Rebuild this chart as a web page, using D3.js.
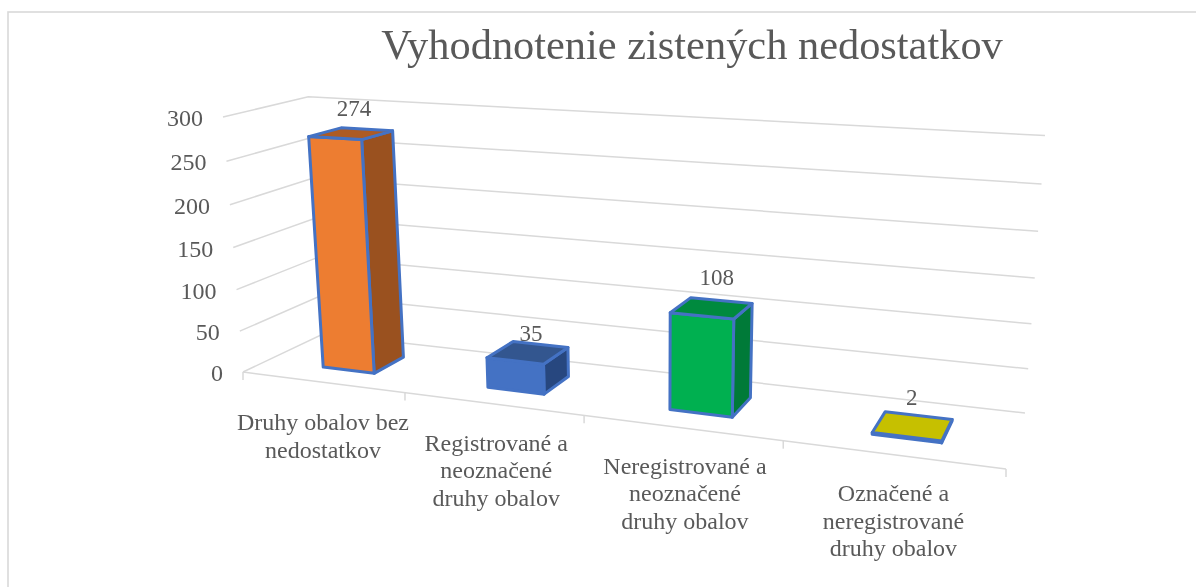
<!DOCTYPE html>
<html>
<head>
<meta charset="utf-8">
<script src="https://cdn.jsdelivr.net/npm/d3@7"></script>
<style>
  html, body { margin: 0; padding: 0; background: #fff; }
  svg { filter: blur(0.4px); }
  text { font-family: "Liberation Serif", serif; fill: #595959; }
</style>
</head>
<body>
<div id="canvas"></div>
<script>
"use strict"

// DATA

let chartTitle = "Vyhodnotenie zistených nedostatkov";
let categories = ["Druhy obalov bez nedostatkov", "Registrované a neoznačené druhy obalov", "Neregistrované a neoznačené druhy obalov", "Označené a neregistrované druhy obalov"];
let categoryLines = [
    ["Druhy obalov bez", "nedostatkov"],
    ["Registrované a", "neoznačené", "druhy obalov"],
    ["Neregistrované a", "neoznačené", "druhy obalov"],
    ["Označené a", "neregistrované", "druhy obalov"]
];
let values = [274, 35, 108, 2];
let yTicks = [0, 50, 100, 150, 200, 250, 300];

// Bar colours - front, side, top
let frontColors = ["#ED7D31", "#4472C4", "#00B050", "#C6C000"];
let sideColors = ["#9A511F", "#27477F", "#007A38", "#807C00"];
let topColors = ["#AD5B24", "#33568F", "#008A3E", "#918D00"];

// Canvas

let svgWidth = 1196;
let svgHeight = 587;

let svg = d3.select("#canvas")
    .append("svg")
    .attr("width", svgWidth)
    .attr("height", svgHeight)
    .style("display", "block");

// only the left and top chart borders fall inside the picture
svg.append("rect")
    .attr("x", 8)
    .attr("y", 12)
    .attr("width", svgWidth + 20)
    .attr("height", svgHeight + 20)
    .attr("fill", "none")
    .attr("stroke", "#D9D9D9")
    .attr("stroke-width", 1.6);


// 3D BOX - floor corners: front left, front right, back right, back left

let floorQuad = [[243, 372], [1006, 469], [1025, 413], [323, 334]];
let topFrontLeft = [223, 117]; // where the 300 line starts
let topBackRightX = 1045;      // where the 300 line ends

// floor homography from the unit square (Heckbert)
let q = floorQuad;
let dx1 = q[1][0] - q[2][0], dx2 = q[3][0] - q[2][0], sx = q[0][0] - q[1][0] + q[2][0] - q[3][0];
let dy1 = q[1][1] - q[2][1], dy2 = q[3][1] - q[2][1], sy = q[0][1] - q[1][1] + q[2][1] - q[3][1];
let den = dx1 * dy2 - dx2 * dy1;
let mU = (sx * dy2 - dx2 * sy) / den;
let mW = (dx1 * sy - sx * dy1) / den;
let xU = q[1][0] - q[0][0] + mU * q[1][0];
let xW = q[3][0] - q[0][0] + mW * q[3][0];
let yU = q[1][1] - q[0][1] + mU * q[1][1];
let yW = q[3][1] - q[0][1] + mW * q[3][1];

// height column of the camera matrix, solved from the two top points
let backRightM = mU + mW + 1;
let backRightN = xU + xW + q[0][0];
let mV = (backRightN + topFrontLeft[0] - q[0][0] - topBackRightX * backRightM) / (topBackRightX - topFrontLeft[0]);
let xV = topFrontLeft[0] * (1 + mV) - q[0][0];
let yV = topFrontLeft[1] * (1 + mV) - q[0][1];

// u = along the categories, v = value, w = depth, all in 0..1
function project(u, v, w) {
    let m = mU * u + mW * w + mV * v + 1;
    let wallFit = v * (8 * u - 3) * w; // back wall lines are a bit steeper than the camera gives
    return [(xU * u + xW * w + xV * v + q[0][0]) / m, (yU * u + yW * w + yV * v + q[0][1]) / m + wallFit];
}

// SCALES

let xScale = d3.scaleLinear().domain([0, categories.length]).range([0, 1]);
let yScale = d3.scaleLinear().domain([0, 300]).range([0, 1]);
let bandScale = d3.scaleBand()
    .domain(d3.range(categories.length))
    .range([0.005, 1.007])
    .paddingInner(0.68)
    .paddingOuter(0.34);

let depthFront = 0.29;
let depthBack = 0.69;

let line = d3.line();


// GRIDLINES - left wall then back wall

yTicks.forEach(function (tick) {
    let v = yScale(tick);
    svg.append("path")
        .attr("d", line([project(0, v, 0), project(0, v, 1), project(1, v, 1)]))
        .attr("fill", "none")
        .attr("stroke", "#D9D9D9")
        .attr("stroke-width", 1.5);
});


// FLOOR LINE + TICKS

svg.append("path")
    .attr("d", line([project(0, 0, 0), project(1, 0, 0)]))
    .attr("fill", "none")
    .attr("stroke", "#D9D9D9")
    .attr("stroke-width", 1.5);

d3.range(categories.length + 1).forEach(function (i) {
    let p = project(xScale(i), 0, 0);
    svg.append("line")
        .attr("x1", p[0])
        .attr("y1", p[1])
        .attr("x2", p[0])
        .attr("y2", p[1] + 8)
        .attr("stroke", "#D9D9D9")
        .attr("stroke-width", 1.5);
});


// BARS

values.forEach(function (value, i) {
    let u0 = bandScale(i);
    let u1 = u0 + bandScale.bandwidth();
    let v = yScale(value);

    let faces = [
        { color: sideColors[i], pts: [project(u1, 0, depthFront), project(u1, 0, depthBack), project(u1, v, depthBack), project(u1, v, depthFront)] },
        { color: frontColors[i], pts: [project(u0, 0, depthFront), project(u1, 0, depthFront), project(u1, v, depthFront), project(u0, v, depthFront)] },
        { color: value < 5 ? frontColors[i] : topColors[i], pts: [project(u0, v, depthFront), project(u1, v, depthFront), project(u1, v, depthBack), project(u0, v, depthBack)] }
    ];

    svg.selectAll(".face-" + i)
        .data(faces)
        .join("path")
        .attr("class", "face-" + i)
        .attr("d", function (f) { return line(f.pts) + "Z"; })
        .attr("fill", function (f) { return f.color; })
        .attr("stroke", "#4472C4")
        .attr("stroke-width", 3)
        .attr("stroke-linejoin", "round");
});


// TEXT

svg.append("text")
    .attr("x", 692)
    .attr("y", 59)
    .style("text-anchor", "middle")
    .style("font-size", "42.4px")
    .text(chartTitle);

// Y AXIS VALUES
yTicks.forEach(function (tick) {
    let p = project(0, yScale(tick), 0);
    svg.append("text")
        .attr("x", p[0] - 20)
        .attr("y", p[1] + 9)
        .style("text-anchor", "end")
        .style("font-size", "24px")
        .text(tick);
});

// DATA LABELS - shift from the middle of the bar top
let labelShiftX = [3, 3, 5, -1];
let labelShiftY = [-18, -12, -23, -21];

values.forEach(function (value, i) {
    let uMid = bandScale(i) + bandScale.bandwidth() / 2;
    let p = project(uMid, yScale(value), (depthFront + depthBack) / 2);
    svg.append("text")
        .attr("x", p[0] + labelShiftX[i])
        .attr("y", p[1] + labelShiftY[i])
        .style("text-anchor", "middle")
        .style("font-size", "23px")
        .text(value);
});

// CATEGORY LABELS
let catShiftX = [1, 4, 4, 2];
let catShiftY = [48, 47, 46, 47];
let catLineGap = 27.5;

categoryLines.forEach(function (lines, i) {
    let p = project(xScale(i + 0.5), 0, 0);
    lines.forEach(function (txt, j) {
        svg.append("text")
            .attr("x", p[0] + catShiftX[i])
            .attr("y", p[1] + catShiftY[i] + j * catLineGap)
            .style("text-anchor", "middle")
            .style("font-size", "24px")
            .text(txt);
    });
});
</script>
</body>
</html>
